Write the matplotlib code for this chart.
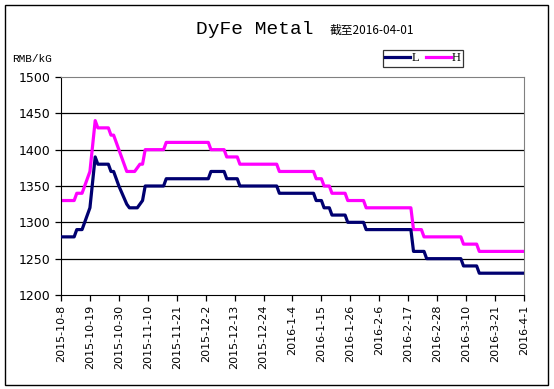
import numpy as np
import pandas as pd
import matplotlib
matplotlib.use("Agg")
import matplotlib.pyplot as plt
from matplotlib.patches import Rectangle

# price points (days after 2015-10-08, RMB/kG)
start = pd.Timestamp("2015-10-08")
low_days = [0, 5, 6, 8, 9, 10, 11, 13, 14, 18, 19, 20, 22, 25, 26, 29, 31, 32, 39, 40,
            56, 57, 62, 63, 67, 68, 82, 83, 96, 97, 99, 100, 102, 103, 108, 109,
            115, 116, 133, 134, 138, 139, 152, 153, 158, 159, 176]
low_vals = [1280, 1280, 1290, 1290, 1300, 1310, 1320, 1390, 1380, 1380, 1370, 1370, 1350, 1325, 1320, 1320, 1330, 1350, 1350, 1360,
            1360, 1370, 1370, 1360, 1360, 1350, 1350, 1340, 1340, 1330, 1330, 1320, 1320, 1310, 1310, 1300,
            1300, 1290, 1290, 1260, 1260, 1250, 1250, 1240, 1240, 1230, 1230]
high_days = [0, 5, 6, 8, 9, 10, 11, 13, 14, 18, 19, 20, 22, 24, 25, 28, 30, 31, 32, 39, 40,
             56, 57, 62, 63, 67, 68, 82, 83, 96, 97, 99, 100, 102, 103, 108, 109,
             115, 116, 133, 134, 137, 138, 152, 153, 158, 159, 176]
high_vals = [1330, 1330, 1340, 1340, 1350, 1360, 1370, 1440, 1430, 1430, 1420, 1420, 1400, 1380, 1370, 1370, 1380, 1380, 1400, 1400, 1410,
             1410, 1400, 1400, 1390, 1390, 1380, 1380, 1370, 1370, 1360, 1360, 1350, 1350, 1340, 1340, 1330,
             1330, 1320, 1320, 1290, 1290, 1280, 1280, 1270, 1270, 1260, 1260]
tick_labels = ["2015-10-8", "2015-10-19", "2015-10-30", "2015-11-10", "2015-11-21",
               "2015-12-2", "2015-12-13", "2015-12-24", "2016-1-4", "2016-1-15",
               "2016-1-26", "2016-2-6", "2016-2-17", "2016-2-28", "2016-3-10",
               "2016-3-21", "2016-4-1"]
y_ticks = [1200, 1250, 1300, 1350, 1400, 1450, 1500]

low_dates = start + pd.to_timedelta(low_days, unit="D")
high_dates = start + pd.to_timedelta(high_days, unit="D")
tick_dates = pd.to_datetime(tick_labels)

fig = plt.figure(figsize=(5.54, 3.89), dpi=100)
ax = fig.add_axes([61 / 554, 1 - 295 / 389, 463 / 554, 218 / 389])

for y in y_ticks[1:-1]:
    ax.axhline(y, color="black", lw=0.9, zorder=1)

ax.plot(low_dates, low_vals, color="#000070", lw=2.3, label="L", zorder=3)
ax.plot(high_dates, high_vals, color="#FF00FF", lw=2.3, label="H", zorder=2)

ax.set_xlim(tick_dates[0], tick_dates[-1])
ax.set_ylim(1200, 1500)
ax.set_yticks(y_ticks)
ax.set_yticklabels([str(v) for v in y_ticks], fontsize=9, family="DejaVu Sans")
ax.set_xticks(tick_dates)
ax.set_xticklabels(tick_labels, rotation=90, fontsize=8, family="DejaVu Sans")
ax.tick_params(axis="both", direction="out", length=4, width=0.9, color="black")
ax.tick_params(axis="x", pad=3)

for side in ["top", "right"]:
    ax.spines[side].set_color("#808080")
for side in ["left", "bottom"]:
    ax.spines[side].set_color("black")

fig.text(255 / 554, 1 - 30 / 389, "DyFe Metal", ha="center", va="center",
         fontsize=14, family="Liberation Mono")
fig.text(330 / 554, 1 - 30 / 389, "截至2016-04-01", ha="left", va="center",
         fontsize=8.5, family=["Noto Sans CJK SC", "DejaVu Sans"])
fig.text(12 / 554, 1 - 59 / 389, "RMB/kG", ha="left", va="center",
         fontsize=8, family="Liberation Mono")

leg = ax.legend(loc="center", bbox_to_anchor=(423 / 554, 1 - 58 / 389),
                bbox_transform=fig.transFigure, ncol=2, frameon=True,
                fancybox=False, edgecolor="black",
                handlelength=2.0, handletextpad=0.1, columnspacing=0.5,
                borderpad=0.2, prop={"family": "Liberation Serif", "size": 9})
leg.get_frame().set_linewidth(0.9)

fig.patches.append(Rectangle((5 / 554, 4 / 389), 543 / 554, 380 / 389,
                             transform=fig.transFigure, fill=False,
                             edgecolor="black", lw=1))

fig.savefig("out.png", dpi=100)
